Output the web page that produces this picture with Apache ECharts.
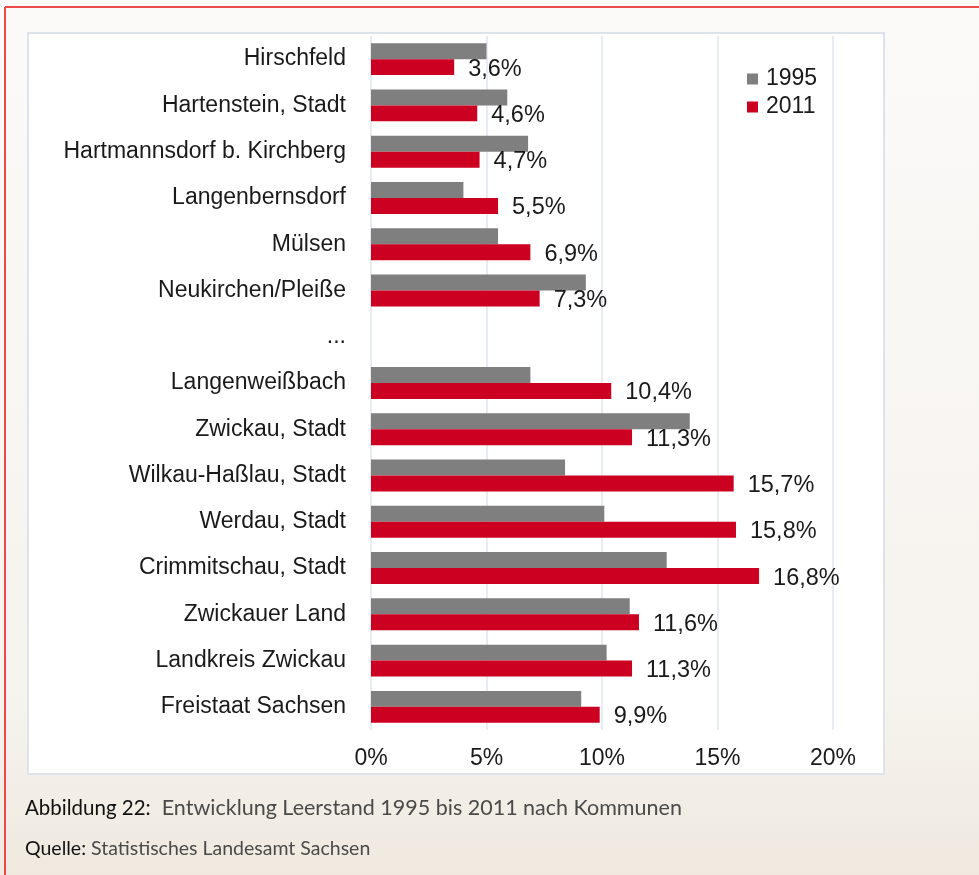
<!DOCTYPE html>
<html>
<head>
<meta charset="utf-8">
<script src="https://cdn.jsdelivr.net/npm/echarts@6/dist/echarts.min.js"></script>
<style>
  html, body { margin: 0; padding: 0; }
  #chart { width: 979px; height: 875px; }
</style>
</head>
<body>
<div id="chart"></div>
<script>
var categories = [
  "Hirschfeld", "Hartenstein, Stadt", "Hartmannsdorf b. Kirchberg", "Langenbernsdorf",
  "Mülsen", "Neukirchen/Pleiße", "...", "Langenweißbach", "Zwickau, Stadt",
  "Wilkau-Haßlau, Stadt", "Werdau, Stadt", "Crimmitschau, Stadt", "Zwickauer Land",
  "Landkreis Zwickau", "Freistaat Sachsen"
];
// Leerstand in %, "-" = Platzhalterzeile
var values1995 = [5.0, 5.9, 6.8, 4.0, 5.5, 9.3, "-", 6.9, 13.8, 8.4, 10.1, 12.8, 11.2, 10.2, 9.1];
var values2011 = [3.6, 4.6, 4.7, 5.5, 6.9, 7.3, "-", 10.4, 11.3, 15.7, 15.8, 16.8, 11.6, 11.3, 9.9];
var tickValues = [0, 5, 10, 15, 20];

var myChart = echarts.init(document.getElementById("chart"));

myChart.setOption({
  backgroundColor: {
    type: "linear", x: 0, y: 0, x2: 0, y2: 1,
    colorStops: [
      { offset: 0, color: "#fbfaf8" },
      { offset: 0.8, color: "#f6f3ee" },
      { offset: 1, color: "#efe9df" }
    ]
  },
  animation: false,
  textStyle: { fontFamily: "Liberation Sans, Arial, sans-serif" },
  graphic: [
    // weisse Diagrammflaeche
    { type: "rect", z: -10, shape: { x: 28, y: 33, width: 856, height: 741 },
      style: { fill: "#ffffff", stroke: "#dde2ee", lineWidth: 2 } },
    // roter Rahmen
    { type: "line", shape: { x1: 5, y1: 7, x2: 979, y2: 7 },
      style: { stroke: "#ec4a4a", lineWidth: 2 } },
    { type: "line", shape: { x1: 5, y1: 7, x2: 5, y2: 875 },
      style: { stroke: "#ec4a4a", lineWidth: 2 } },
    { type: "text", left: 25, top: 797,
      style: {
        text: "{b|Abbildung 22:}  Entwicklung Leerstand 1995 bis 2011 nach Kommunen",
        font: "21.5px Lato, sans-serif", fill: "#4a4a4a",
        rich: { b: { font: "20.5px Lato, sans-serif", fill: "#111111" } }
      } },
    { type: "text", left: 25, top: 839,
      style: {
        text: "{b|Quelle:} Statistisches Landesamt Sachsen",
        font: "19.5px Lato, sans-serif", fill: "#4a4a4a",
        rich: { b: { font: "19.5px Lato, sans-serif", fill: "#111111" } }
      } }
  ],
  legend: {
    orient: "vertical",
    left: 742,
    top: 62,
    itemWidth: 11,
    itemHeight: 11,
    itemGap: 4,
    icon: "rect",
    textStyle: { fontSize: 23, lineHeight: 24, color: "#1a1a1a", padding: [0, 0, 0, 3] },
    data: ["1995", "2011"]
  },
  grid: { left: 371, right: 146, top: 36, bottom: 145 },
  xAxis: {
    type: "value",
    min: 0,
    max: 20,
    interval: 5,
    axisLine: { show: false },
    axisTick: { show: false },
    splitLine: { lineStyle: { color: "#dfe4ee", width: 1.5 } },
    axisLabel: {
      fontSize: 23, color: "#1a1a1a", margin: 17,
      formatter: function (v) { return tickValues.indexOf(v) >= 0 ? v + "%" : ""; }
    }
  },
  yAxis: {
    type: "category",
    inverse: true,
    data: categories,
    axisLine: { show: false },
    axisTick: { show: false },
    axisLabel: { fontSize: 23, color: "#1a1a1a", margin: 25 }
  },
  series: [
    {
      name: "1995",
      type: "bar",
      data: values1995,
      barGap: "0%",
      barCategoryGap: "31%",
      itemStyle: { color: "#7f7f7f" }
    },
    {
      name: "2011",
      type: "bar",
      data: values2011,
      itemStyle: { color: "#cc0020" },
      label: {
        show: true,
        position: "right",
        distance: 14,
        offset: [0, 2],
        fontSize: 23.5,
        color: "#1a1a1a",
        formatter: function (p) { return String(p.value).replace(".", ",") + "%"; }
      }
    }
  ]
});
</script>
</body>
</html>
